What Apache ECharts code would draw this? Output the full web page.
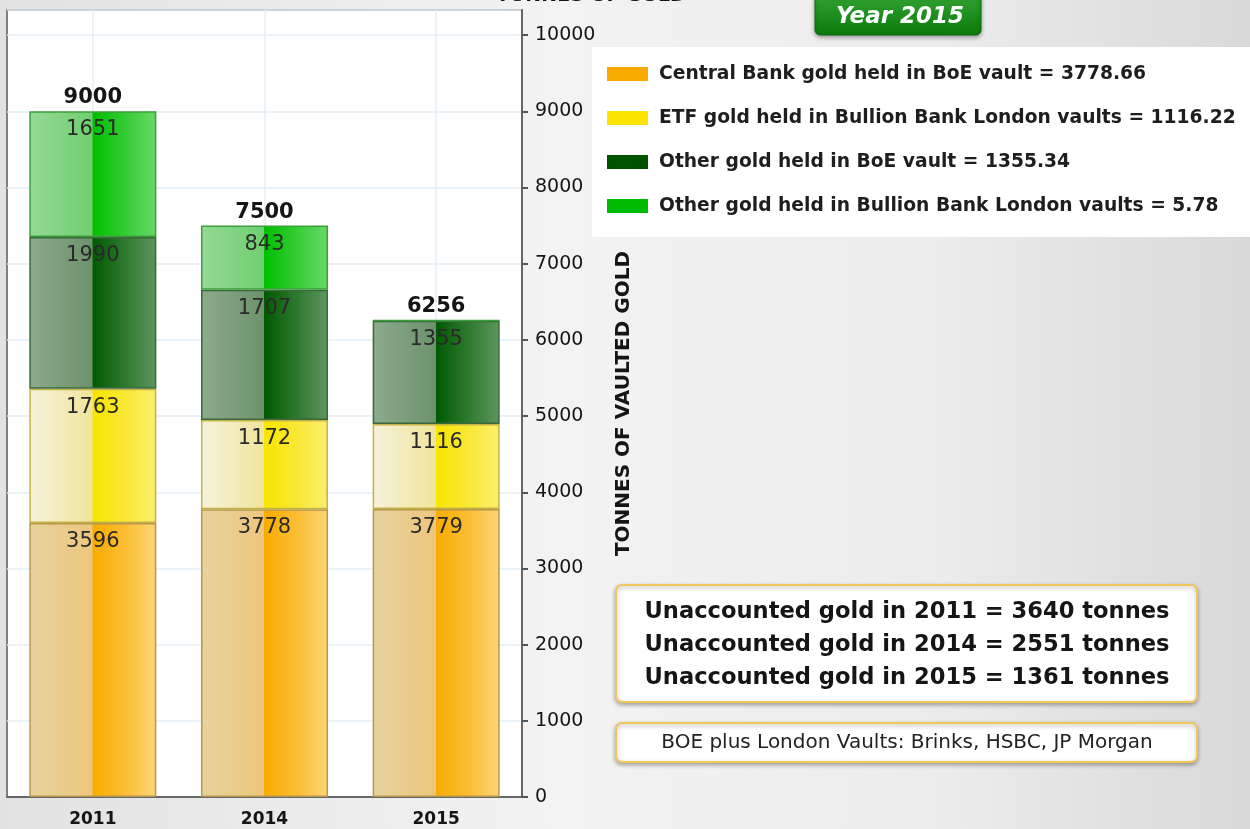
<!DOCTYPE html>
<html>
<head>
<meta charset="utf-8">
<script src="https://cdn.jsdelivr.net/npm/echarts@6/dist/echarts.min.js"></script>
<style>
  html, body { margin: 0; padding: 0; }
  #chart { width: 1250px; height: 829px; }
</style>
</head>
<body>
<div id="chart"></div>
<script>
// Years shown on the category axis
const years = ['2011', '2014', '2015'];

// Tonnes of gold per holding category and year
const centralBankBoE = [3596, 3778, 3778.66];
const etfBullionBank = [1763, 1172, 1116.22];
const otherBoE = [1990, 1707, 1355.34];
const otherBullionBank = [1651, 843, 5.78];

// Series names as listed in the legend, and the 2015 figures quoted there
const seriesNames = [
  'Central Bank gold held in BoE vault',
  'ETF gold held in Bullion Bank London vaults',
  'Other gold held in BoE vault',
  'Other gold held in Bullion Bank London vaults'
];
const legendValues = ['3778.66', '1116.22', '1355.34', '5.78'];

// Unaccounted gold per year
const unaccounted = [3640, 2551, 1361];

// Y axis ticks
const yMin = 0;
const yMax = 10330;
const yStep = 1000;

const totals = years.map((_, i) =>
  centralBankBoE[i] + etfBullionBank[i] + otherBoE[i] + otherBullionBank[i]);

const FONT = '"DejaVu Sans", Verdana, sans-serif';

function glossy(left, leftMid, mid, rightMid, right) {
  return new echarts.graphic.LinearGradient(0, 0, 1, 0, [
    { offset: 0, color: left },
    { offset: 0.495, color: leftMid },
    { offset: 0.5, color: mid },
    { offset: 0.75, color: rightMid },
    { offset: 1, color: right }
  ]);
}

const styles = [
  { fill: glossy('#e7d39e', '#edc67e', '#f8ac00', '#fbbd32', '#fdd577'), border: '#b8964a', legend: '#f9ab00' },
  { fill: glossy('#f6f2dc', '#f0e59c', '#f8e500', '#f9e834', '#fbef6e'), border: '#c4b446', legend: '#fbe400' },
  { fill: glossy('#8daa8d', '#6c926c', '#005a00', '#2e782e', '#5f955f'), border: '#3a683a', legend: '#005400' },
  { fill: glossy('#95d995', '#70cf70', '#00bf00', '#34cb34', '#68d968'), border: '#3aa03a', legend: '#00bb00' }
];

const dataSets = [centralBankBoE, etfBullionBank, otherBoE, otherBullionBank];

const stackSeries = dataSets.map((vals, k) => ({
  name: seriesNames[k],
  type: 'bar',
  stack: 'gold',
  barWidth: 127,
  data: vals,
  itemStyle: {
    color: styles[k].fill,
    borderColor: styles[k].border,
    borderWidth: 1.5
  },
  label: {
    show: true,
    position: 'insideTop',
    distance: 8,
    fontFamily: FONT,
    fontSize: 21,
    color: '#2a2a2a',
    formatter: p => (p.value < 50 ? '' : String(Math.round(p.value)))
  }
}));

// Transparent bars carrying the stack totals, plus the vertical grid lines
const totalSeries = {
  name: 'Total',
  type: 'bar',
  barWidth: 127,
  barGap: '-100%',
  z: 1,
  data: totals,
  itemStyle: { color: 'rgba(0,0,0,0)' },
  label: {
    show: true,
    position: 'top',
    distance: 3,
    fontFamily: FONT,
    fontSize: 21,
    fontWeight: 'bold',
    color: '#151515',
    formatter: p => String(Math.round(p.value))
  },
  markLine: {
    z: 1,
    silent: true,
    symbol: 'none',
    label: { show: false },
    lineStyle: { color: '#e3eef9', width: 1.5, type: 'solid' },
    data: years.map(y => ({ xAxis: y }))
  }
};

const chart = echarts.init(document.getElementById('chart'), null, { renderer: 'canvas' });

chart.setOption({
  animation: false,
  backgroundColor: new echarts.graphic.LinearGradient(0, 0, 1, 0, [
    { offset: 0, color: '#e2e2e2' },
    { offset: 0.45, color: '#f3f3f3' },
    { offset: 0.75, color: '#ececec' },
    { offset: 1, color: '#d9d9d9' }
  ]),
  grid: {
    left: 7,
    right: 728,
    top: 10,
    bottom: 32,
    show: true,
    backgroundColor: '#ffffff',
    borderColor: '#808080',
    borderWidth: 2,
    containLabel: false
  },
  legend: {
    orient: 'vertical',
    left: 602,
    top: 59,
    itemWidth: 41,
    itemHeight: 14,
    itemGap: 24,
    icon: 'rect',
    selectedMode: false,
    data: seriesNames.map((n, k) => ({ name: n, itemStyle: { color: styles[k].legend, borderWidth: 0 } })),
    formatter: name => name + ' = ' + legendValues[seriesNames.indexOf(name)],
    textStyle: { fontFamily: FONT, fontSize: 18.7, lineHeight: 20, fontWeight: 'bold', color: '#1e1e1e', padding: [0, 0, 0, 6] }
  },
  xAxis: {
    type: 'category',
    data: years,
    axisLine: { lineStyle: { color: '#666666', width: 2 } },
    axisTick: { alignWithLabel: true, length: 5, lineStyle: { color: '#555555', width: 2 } },
    axisLabel: { fontFamily: FONT, fontSize: 17, fontWeight: 'bold', color: '#151515', margin: 14 },
    splitLine: { show: false }
  },
  yAxis: {
    type: 'value',
    position: 'right',
    min: yMin,
    max: yMax,
    interval: yStep,
    name: 'TONNES OF VAULTED GOLD',
    nameLocation: 'middle',
    nameRotate: 90,
    nameGap: 92,
    nameTextStyle: { fontFamily: FONT, fontSize: 20, fontWeight: 'bold', color: '#151515' },
    axisLine: { show: true, lineStyle: { color: '#666666', width: 2 } },
    axisTick: { show: true, length: 6, lineStyle: { color: '#555555', width: 2 } },
    axisLabel: {
      fontFamily: FONT, fontSize: 19, color: '#151515', margin: 13, showMaxLabel: false,
      formatter: v => String(v)
    },
    splitLine: { lineStyle: { color: '#e3eef9', width: 1.5 } }
  },
  series: [totalSeries, ...stackSeries],
  graphic: [
    {
      type: 'rect', z: -1,
      shape: { x: 592, y: 47, width: 660, height: 190 },
      style: { fill: '#ffffff' }
    },
    {
      type: 'text',
      style: {
        x: 591, y: 6, text: 'TONNES OF GOLD',
        font: 'bold 19px ' + FONT, fill: '#151515',
        textAlign: 'center', textVerticalAlign: 'bottom'
      }
    },
    {
      type: 'rect',
      shape: { x: 815, y: -6, width: 166, height: 41, r: 5 },
      style: {
        fill: new echarts.graphic.LinearGradient(0, 0, 0, 1, [
          { offset: 0, color: '#33a333' },
          { offset: 1, color: '#0a7a0a' }
        ]),
        stroke: '#0c6a0c', lineWidth: 1,
        shadowBlur: 4, shadowColor: 'rgba(0,0,0,0.35)', shadowOffsetY: 2
      }
    },
    {
      type: 'text',
      style: {
        x: 900, y: 17, text: 'Year 2015',
        font: 'italic bold 23px ' + FONT, fill: '#ffffff',
        textAlign: 'center', textVerticalAlign: 'middle'
      }
    },
    {
      type: 'rect',
      shape: { x: 616, y: 585, width: 581, height: 117, r: 6 },
      style: {
        fill: '#ffffff', stroke: '#f2c65a', lineWidth: 2,
        shadowBlur: 4, shadowColor: 'rgba(0,0,0,0.3)', shadowOffsetY: 2
      }
    },
    {
      type: 'text',
      style: {
        x: 907, y: 645,
        text: years.map((y, i) => 'Unaccounted gold in ' + y + ' = ' + unaccounted[i] + ' tonnes').join('\n'),
        font: 'bold 22.6px ' + FONT, fill: '#151515', lineHeight: 33,
        textAlign: 'center', textVerticalAlign: 'middle'
      }
    },
    {
      type: 'rect',
      shape: { x: 616, y: 723, width: 581, height: 39, r: 6 },
      style: {
        fill: '#ffffff', stroke: '#f2c65a', lineWidth: 2,
        shadowBlur: 4, shadowColor: 'rgba(0,0,0,0.3)', shadowOffsetY: 2
      }
    },
    {
      type: 'text',
      style: {
        x: 907, y: 743, text: 'BOE plus London Vaults: Brinks, HSBC, JP Morgan',
        font: '20px ' + FONT, fill: '#222222',
        textAlign: 'center', textVerticalAlign: 'middle'
      }
    }
  ]
});
</script>
</body>
</html>
